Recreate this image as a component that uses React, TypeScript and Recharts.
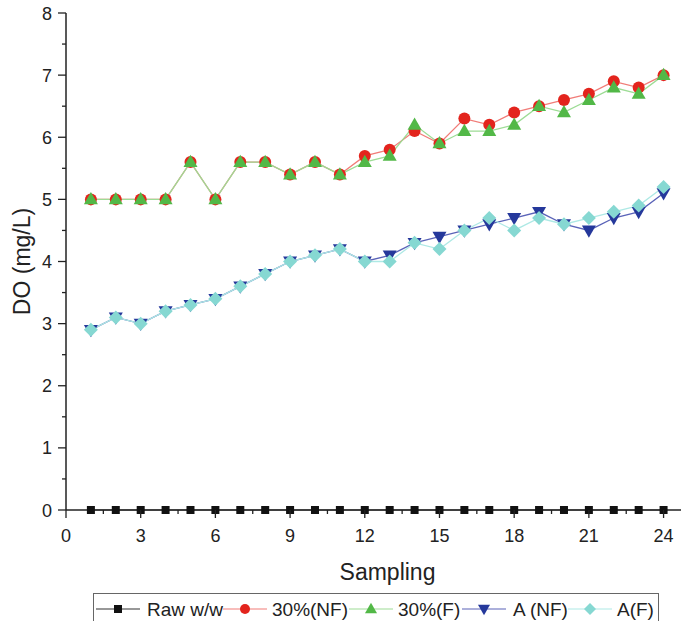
import React from 'react';
import { LineChart, Line, XAxis, YAxis, Label } from 'recharts';

const sampling = [1, 2, 3, 4, 5, 6, 7, 8, 9, 10, 11, 12, 13, 14, 15, 16, 17, 18, 19, 20, 21, 22, 23, 24];
const rawWW = [0, 0, 0, 0, 0, 0, 0, 0, 0, 0, 0, 0, 0, 0, 0, 0, 0, 0, 0, 0, 0, 0, 0, 0];
const nf30 = [5.0, 5.0, 5.0, 5.0, 5.6, 5.0, 5.6, 5.6, 5.4, 5.6, 5.4, 5.7, 5.8, 6.1, 5.9, 6.3, 6.2, 6.4, 6.5, 6.6, 6.7, 6.9, 6.8, 7.0];
const f30 = [5.0, 5.0, 5.0, 5.0, 5.6, 5.0, 5.6, 5.6, 5.4, 5.6, 5.4, 5.6, 5.7, 6.2, 5.9, 6.1, 6.1, 6.2, 6.5, 6.4, 6.6, 6.8, 6.7, 7.0];
const aNF = [2.9, 3.1, 3.0, 3.2, 3.3, 3.4, 3.6, 3.8, 4.0, 4.1, 4.2, 4.0, 4.1, 4.3, 4.4, 4.5, 4.6, 4.7, 4.8, 4.6, 4.5, 4.7, 4.8, 5.1];
const aF = [2.9, 3.1, 3.0, 3.2, 3.3, 3.4, 3.6, 3.8, 4.0, 4.1, 4.2, 4.0, 4.0, 4.3, 4.2, 4.5, 4.7, 4.5, 4.7, 4.6, 4.7, 4.8, 4.9, 5.2];

const xTicks = [0, 1.5, 3, 4.5, 6, 7.5, 9, 10.5, 12, 13.5, 15, 16.5, 18, 19.5, 21, 22.5, 24];
const yTicks = [0, 0.5, 1, 1.5, 2, 2.5, 3, 3.5, 4, 4.5, 5, 5.5, 6, 6.5, 7, 7.5, 8];
const seriesNames = ['Raw w/w', '30%(NF)', '30%(F)', 'A (NF)', 'A(F)'];

const data = sampling.map((s, i) => ({
  s,
  raw: rawWW[i],
  nf30: nf30[i],
  f30: f30[i],
  aNF: aNF[i],
  aF: aF[i],
}));

const FONT = '"Liberation Sans", Arial, sans-serif';
const TXT = '#222';

const C = {
  raw: { mark: '#111', line: '#333' },
  nf30: { mark: '#e3241d', line: '#f17c78' },
  f30: { mark: '#52b847', line: '#9ddc95' },
  aNF: { mark: '#25389b', line: '#5a63b8' },
  aF: { mark: '#86d8d2', line: '#aee9e5' },
};

type Shape = 'square' | 'circle' | 'up' | 'down' | 'diamond';

function Marker({ shape, cx, cy, s, fill }: { shape: Shape; cx: number; cy: number; s: number; fill: string }) {
  if (shape === 'square') return <rect x={cx - s} y={cy - s} width={2 * s} height={2 * s} fill={fill} />;
  if (shape === 'circle') return <circle cx={cx} cy={cy} r={s} fill={fill} />;
  if (shape === 'up')
    return <polygon points={`${cx},${cy - s * 1.05} ${cx - s},${cy + s * 0.7} ${cx + s},${cy + s * 0.7}`} fill={fill} />;
  if (shape === 'down')
    return <polygon points={`${cx},${cy + s * 1.05} ${cx - s},${cy - s * 0.7} ${cx + s},${cy - s * 0.7}`} fill={fill} />;
  return <polygon points={`${cx},${cy - s} ${cx + s},${cy} ${cx},${cy + s} ${cx - s},${cy}`} fill={fill} />;
}

const makeDot = (shape: Shape, size: number, fill: string) => (props: any) => {
  const { cx, cy, index } = props;
  if (cx == null || cy == null) return <g key={`e-${index}`} />;
  return (
    <g key={`${shape}-${index}`}>
      <Marker shape={shape} cx={cx} cy={cy} s={size} fill={fill} />
    </g>
  );
};

const XTick = (props: any) => {
  const { x, y, payload } = props;
  const v = payload.value;
  const major = v % 3 === 0;
  return (
    <g>
      <line x1={x} x2={x} y1={y} y2={y + (major ? 8 : 4)} stroke="#222" strokeWidth={1.3} />
      {major && (
        <text x={x} y={y + 32} textAnchor="middle" fontSize={18} fontFamily={FONT} fill={TXT}>
          {v}
        </text>
      )}
    </g>
  );
};

const YTick = (props: any) => {
  const { x, y, payload } = props;
  const v = payload.value;
  const major = Number.isInteger(v);
  return (
    <g>
      <line x1={x - (major ? 8 : 4)} x2={x} y1={y} y2={y} stroke="#222" strokeWidth={1.3} />
      {major && (
        <text x={x - 14} y={y + 6.5} textAnchor="end" fontSize={18} fontFamily={FONT} fill={TXT}>
          {v}
        </text>
      )}
    </g>
  );
};

const legendItems: { key: keyof typeof C; shape: Shape; lx: number; tx: number; s: number }[] = [
  { key: 'raw', shape: 'square', lx: 96, tx: 147, s: 4 },
  { key: 'nf30', shape: 'circle', lx: 223, tx: 272, s: 5 },
  { key: 'f30', shape: 'up', lx: 349, tx: 398, s: 6 },
  { key: 'aNF', shape: 'down', lx: 462, tx: 513, s: 6 },
  { key: 'aF', shape: 'diamond', lx: 568, tx: 617, s: 6 },
];

function LegendBox() {
  const cy = 609;
  return (
    <svg width={681} height={621} style={{ position: 'absolute', left: 0, top: 0, pointerEvents: 'none' }}>
      <rect x={93.5} y={593.5} width={565} height={40} fill="none" stroke="#666" strokeWidth={1} />
      {legendItems.map((it, i) => (
        <g key={it.key}>
          <line x1={it.lx} x2={it.lx + 44} y1={cy} y2={cy} stroke={C[it.key].line} strokeWidth={1.2} />
          <Marker shape={it.shape} cx={it.lx + 22} cy={cy} s={it.s} fill={C[it.key].mark} />
          <text x={it.tx} y={cy + 7} fontSize={19} fontFamily={FONT} fill={TXT}>
            {seriesNames[i]}
          </text>
        </g>
      ))}
    </svg>
  );
}

export default function App() {
  return (
    <div style={{ position: 'absolute', left: 0, top: 0, width: 681, height: 621, background: '#fff', overflow: 'hidden' }}>
      <LineChart width={681} height={621} data={data} margin={{ top: 13, right: 0, bottom: 0, left: 0 }}>
        <XAxis
          dataKey="s"
          type="number"
          domain={[0, 24.7]}
          ticks={xTicks}
          interval={0}
          tickSize={0}
          tickMargin={0}
          tickLine={false}
          tick={<XTick />}
          height={111}
          axisLine={{ stroke: '#222', strokeWidth: 1.5 }}
          allowDataOverflow
        >
          <Label
            content={(p: any) => {
              const vb = p.viewBox;
              return (
                <text x={vb.x + vb.width / 2 + 14} y={vb.y + 70} textAnchor="middle" fontSize={23} fontFamily={FONT} fill={TXT}>
                  Sampling
                </text>
              );
            }}
          />
        </XAxis>
        <YAxis
          type="number"
          domain={[0, 8]}
          ticks={yTicks}
          interval={0}
          tickSize={0}
          tickMargin={0}
          tickLine={false}
          tick={<YTick />}
          width={66}
          axisLine={{ stroke: '#222', strokeWidth: 1.5 }}
        >
          <Label
            content={(p: any) => {
              const vb = p.viewBox;
              const cx = 22;
              const cy = vb.y + vb.height / 2;
              return (
                <text
                  x={cx}
                  y={cy}
                  transform={`rotate(-90 ${cx} ${cy})`}
                  textAnchor="middle"
                  dominantBaseline="central"
                  fontSize={23}
                  fontFamily={FONT}
                  fill={TXT}
                >
                  DO (mg/L)
                </text>
              );
            }}
          />
        </YAxis>
        <Line dataKey="raw" stroke={C.raw.line} strokeWidth={1} dot={makeDot('square', 4, C.raw.mark)} activeDot={false} isAnimationActive={false} />
        <Line dataKey="nf30" stroke={C.nf30.line} strokeWidth={1.3} dot={makeDot('circle', 6, C.nf30.mark)} activeDot={false} isAnimationActive={false} />
        <Line dataKey="f30" stroke={C.f30.line} strokeWidth={1.3} dot={makeDot('up', 7, C.f30.mark)} activeDot={false} isAnimationActive={false} />
        <Line dataKey="aNF" stroke={C.aNF.line} strokeWidth={1.3} dot={makeDot('down', 7, C.aNF.mark)} activeDot={false} isAnimationActive={false} />
        <Line dataKey="aF" stroke={C.aF.line} strokeWidth={1.3} dot={makeDot('diamond', 7, C.aF.mark)} activeDot={false} isAnimationActive={false} />
      </LineChart>
      <LegendBox />
    </div>
  );
}
